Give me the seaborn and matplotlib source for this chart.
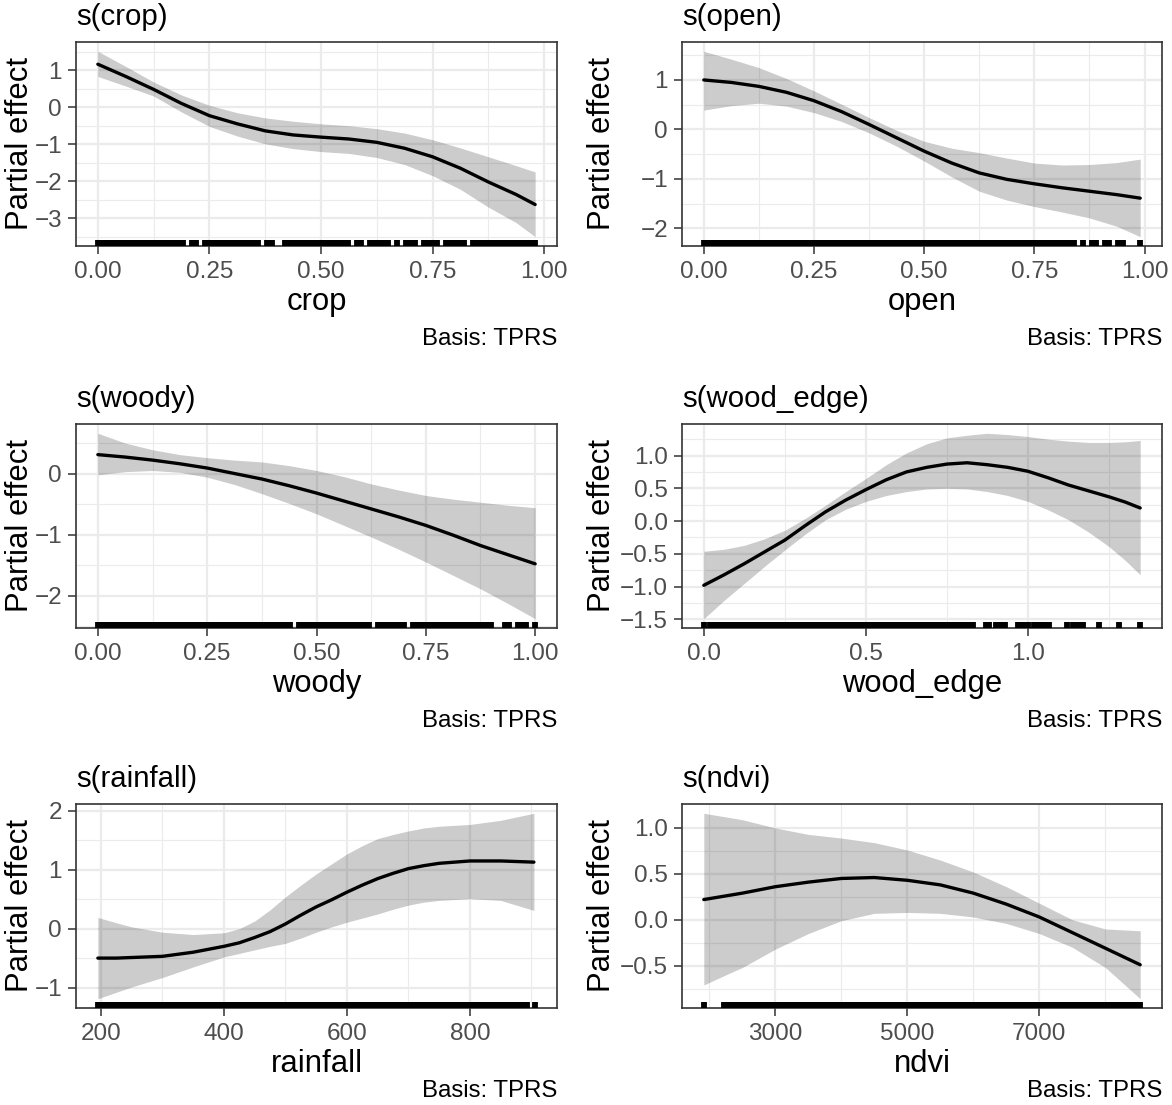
import matplotlib
matplotlib.use("Agg")
import matplotlib.pyplot as plt
import seaborn as sns

sns.set_theme(style="white")
plt.rcParams["font.family"] = ["Liberation Sans", "DejaVu Sans"]
plt.rcParams["axes.unicode_minus"] = True

M = "\u2212"

# ---------------- data: s(crop) ----------------
crop_x = [0.0, 0.0625, 0.125, 0.1875, 0.25, 0.3125, 0.375, 0.4375, 0.5, 0.5625,
          0.625, 0.6875, 0.75, 0.8125, 0.875, 0.9375, 0.98]
crop_fit = [1.16, 0.83, 0.48, 0.10, -0.23, -0.45, -0.64, -0.75, -0.81, -0.86,
            -0.95, -1.11, -1.34, -1.65, -2.02, -2.36, -2.63]
crop_upper = [1.51, 1.10, 0.68, 0.33, 0.05, -0.15, -0.29, -0.38, -0.45, -0.50,
              -0.58, -0.70, -0.88, -1.10, -1.34, -1.58, -1.75]
crop_lower = [0.83, 0.57, 0.30, -0.13, -0.52, -0.78, -0.99, -1.12, -1.20, -1.25,
              -1.36, -1.55, -1.85, -2.22, -2.70, -3.12, -3.50]
crop_rug = [0.00, 0.01, 0.02, 0.03, 0.04, 0.05, 0.06, 0.07, 0.08, 0.09, 0.10, 0.11,
            0.12, 0.13, 0.14, 0.15, 0.16, 0.17, 0.18, 0.19, 0.21, 0.22, 0.24, 0.25,
            0.26, 0.27, 0.28, 0.29, 0.30, 0.31, 0.32, 0.33, 0.34, 0.35, 0.36, 0.38,
            0.39, 0.42, 0.43, 0.44, 0.45, 0.46, 0.47, 0.48, 0.49, 0.50, 0.51, 0.52,
            0.53, 0.54, 0.55, 0.56, 0.58, 0.59, 0.61, 0.62, 0.63, 0.64, 0.65, 0.67,
            0.69, 0.70, 0.71, 0.73, 0.74, 0.75, 0.76, 0.78, 0.79, 0.80, 0.81, 0.82,
            0.84, 0.85, 0.86, 0.87, 0.88, 0.89, 0.90, 0.91, 0.92, 0.93, 0.94, 0.95,
            0.96, 0.97, 0.98]
crop_xticks = [0.0, 0.25, 0.5, 0.75, 1.0]
crop_xlabels = ["0.00", "0.25", "0.50", "0.75", "1.00"]
crop_yticks = [-3, -2, -1, 0, 1]
crop_ylabels = [M + "3", M + "2", M + "1", "0", "1"]

# ---------------- data: s(open) ----------------
open_x = [0.0, 0.0625, 0.125, 0.1875, 0.25, 0.3125, 0.375, 0.4375, 0.5, 0.5625,
          0.625, 0.6875, 0.75, 0.8125, 0.875, 0.9375, 0.99]
open_fit = [1.00, 0.95, 0.87, 0.75, 0.58, 0.36, 0.10, -0.17, -0.44, -0.68,
            -0.88, -1.01, -1.10, -1.18, -1.25, -1.32, -1.39]
open_upper = [1.58, 1.42, 1.25, 1.03, 0.78, 0.51, 0.24, -0.02, -0.24, -0.38,
              -0.47, -0.58, -0.68, -0.72, -0.71, -0.67, -0.60]
open_lower = [0.39, 0.48, 0.53, 0.47, 0.34, 0.16, -0.07, -0.34, -0.64, -0.96,
              -1.25, -1.43, -1.56, -1.67, -1.79, -1.96, -2.17]
open_rug = [0.00, 0.01, 0.02, 0.03, 0.04, 0.05, 0.06, 0.07, 0.08, 0.09, 0.10, 0.11,
            0.12, 0.13, 0.14, 0.15, 0.16, 0.17, 0.18, 0.19, 0.20, 0.21, 0.22, 0.23,
            0.24, 0.25, 0.26, 0.27, 0.28, 0.29, 0.30, 0.31, 0.32, 0.33, 0.34, 0.35,
            0.36, 0.37, 0.38, 0.39, 0.40, 0.41, 0.42, 0.43, 0.44, 0.45, 0.46, 0.47,
            0.48, 0.49, 0.50, 0.51, 0.52, 0.53, 0.54, 0.55, 0.56, 0.57, 0.58, 0.59,
            0.60, 0.61, 0.62, 0.63, 0.64, 0.65, 0.66, 0.67, 0.68, 0.69, 0.70, 0.71,
            0.72, 0.73, 0.74, 0.75, 0.76, 0.77, 0.78, 0.79, 0.80, 0.81, 0.82, 0.83,
            0.84, 0.86, 0.88, 0.89, 0.91, 0.92, 0.94, 0.95, 0.99]
open_xticks = [0.0, 0.25, 0.5, 0.75, 1.0]
open_xlabels = ["0.00", "0.25", "0.50", "0.75", "1.00"]
open_yticks = [-2, -1, 0, 1]
open_ylabels = [M + "2", M + "1", "0", "1"]

# ---------------- data: s(woody) ----------------
woody_x = [0.0, 0.0625, 0.125, 0.1875, 0.25, 0.3125, 0.375, 0.4375, 0.5, 0.5625,
           0.625, 0.6875, 0.75, 0.8125, 0.875, 0.9375, 1.0]
woody_fit = [0.31, 0.27, 0.22, 0.16, 0.09, 0.00, -0.09, -0.20, -0.32, -0.45,
             -0.58, -0.71, -0.85, -1.01, -1.18, -1.33, -1.48]
woody_upper = [0.66, 0.50, 0.39, 0.31, 0.26, 0.22, 0.19, 0.13, 0.05, -0.05,
               -0.17, -0.27, -0.36, -0.42, -0.47, -0.52, -0.56]
woody_lower = [-0.02, 0.03, 0.05, 0.02, -0.06, -0.18, -0.33, -0.49, -0.66, -0.85,
               -1.04, -1.24, -1.45, -1.67, -1.89, -2.13, -2.38]
woody_rug = [0.00, 0.01, 0.02, 0.03, 0.04, 0.05, 0.06, 0.07, 0.08, 0.09, 0.10, 0.11,
             0.12, 0.13, 0.14, 0.15, 0.16, 0.17, 0.18, 0.19, 0.20, 0.21, 0.22, 0.23,
             0.24, 0.25, 0.26, 0.27, 0.28, 0.29, 0.30, 0.31, 0.32, 0.33, 0.34, 0.35,
             0.36, 0.37, 0.38, 0.39, 0.40, 0.41, 0.42, 0.43, 0.44, 0.46, 0.47, 0.48,
             0.49, 0.50, 0.51, 0.52, 0.53, 0.54, 0.55, 0.56, 0.57, 0.58, 0.59, 0.60,
             0.61, 0.62, 0.64, 0.65, 0.66, 0.67, 0.68, 0.69, 0.70, 0.72, 0.73, 0.74,
             0.75, 0.76, 0.77, 0.78, 0.79, 0.80, 0.81, 0.82, 0.83, 0.84, 0.85, 0.86,
             0.87, 0.88, 0.89, 0.90, 0.93, 0.94, 0.96, 0.97, 0.98, 1.00]
woody_xticks = [0.0, 0.25, 0.5, 0.75, 1.0]
woody_xlabels = ["0.00", "0.25", "0.50", "0.75", "1.00"]
woody_yticks = [-2, -1, 0]
woody_ylabels = [M + "2", M + "1", "0"]

# ---------------- data: s(wood_edge) ----------------
edge_x = [0.0, 0.0625, 0.125, 0.1875, 0.25, 0.3125, 0.375, 0.4375, 0.5, 0.5625,
          0.625, 0.6875, 0.75, 0.8125, 0.875, 0.9375, 1.0, 1.0625, 1.125, 1.1875,
          1.25, 1.3, 1.346]
edge_fit = [-0.98, -0.82, -0.65, -0.47, -0.29, -0.07, 0.14, 0.32, 0.48, 0.63,
            0.75, 0.82, 0.87, 0.89, 0.86, 0.82, 0.76, 0.66, 0.55, 0.46,
            0.37, 0.29, 0.20]
edge_upper = [-0.46, -0.43, -0.37, -0.27, -0.14, 0.04, 0.24, 0.45, 0.65, 0.86,
              1.04, 1.18, 1.27, 1.31, 1.34, 1.32, 1.29, 1.25, 1.22, 1.20,
              1.20, 1.21, 1.23]
edge_lower = [-1.49, -1.21, -0.95, -0.69, -0.44, -0.20, 0.02, 0.18, 0.30, 0.39,
              0.45, 0.49, 0.50, 0.49, 0.45, 0.39, 0.30, 0.17, 0.02, -0.17,
              -0.39, -0.60, -0.82]
edge_rug = [0.00, 0.02, 0.035, 0.05, 0.065, 0.08, 0.095, 0.11, 0.125, 0.14, 0.155,
            0.17, 0.185, 0.20, 0.215, 0.23, 0.245, 0.26, 0.275, 0.29, 0.305, 0.32,
            0.335, 0.35, 0.365, 0.38, 0.395, 0.41, 0.425, 0.44, 0.455, 0.47, 0.485,
            0.50, 0.515, 0.53, 0.545, 0.56, 0.575, 0.59, 0.605, 0.62, 0.635, 0.65,
            0.665, 0.68, 0.695, 0.71, 0.725, 0.74, 0.755, 0.77, 0.785, 0.80, 0.815,
            0.83, 0.87, 0.88, 0.90, 0.915, 0.93, 0.97, 0.985, 1.00, 1.02, 1.035,
            1.05, 1.065, 1.12, 1.14, 1.155, 1.17, 1.22, 1.28, 1.346]
edge_xticks = [0.0, 0.5, 1.0]
edge_xlabels = ["0.0", "0.5", "1.0"]
edge_yticks = [-1.5, -1.0, -0.5, 0.0, 0.5, 1.0]
edge_ylabels = [M + "1.5", M + "1.0", M + "0.5", "0.0", "0.5", "1.0"]

# ---------------- data: s(rainfall) ----------------
rain_x = [195, 225, 250, 300, 350, 400, 425, 450, 475, 500, 525, 550, 575, 600,
          625, 650, 675, 700, 725, 750, 800, 850, 904]
rain_fit = [-0.50, -0.50, -0.49, -0.47, -0.40, -0.30, -0.24, -0.15, -0.05, 0.08,
            0.23, 0.37, 0.49, 0.62, 0.74, 0.85, 0.94, 1.02, 1.07, 1.11, 1.15, 1.15, 1.13]
rain_upper = [0.19, 0.10, 0.03, -0.06, -0.10, -0.07, 0.00, 0.13, 0.32, 0.54,
              0.74, 0.93, 1.10, 1.27, 1.41, 1.53, 1.60, 1.66, 1.71, 1.74, 1.77, 1.84, 1.96]
rain_lower = [-1.19, -1.08, -0.99, -0.83, -0.65, -0.48, -0.42, -0.36, -0.30, -0.25,
              -0.16, -0.06, 0.03, 0.11, 0.18, 0.25, 0.33, 0.40, 0.45, 0.48, 0.51, 0.48, 0.31]
rain_rug = [195, 203, 211, 219, 227, 235, 243, 251, 259, 267, 275, 283, 291, 299,
            307, 315, 323, 331, 339, 347, 355, 363, 371, 379, 387, 395, 403, 411,
            419, 427, 435, 443, 451, 459, 467, 475, 483, 491, 499, 507, 515, 523,
            531, 539, 547, 555, 563, 571, 579, 587, 595, 603, 611, 619, 627, 635,
            643, 651, 659, 667, 675, 683, 691, 700, 708, 716, 724, 732, 738, 745,
            753, 761, 769, 777, 785, 793, 801, 806, 813, 820, 828, 836, 844, 852,
            860, 868, 876, 884, 892, 906]
rain_xticks = [200, 400, 600, 800]
rain_xlabels = ["200", "400", "600", "800"]
rain_yticks = [-1, 0, 1, 2]
rain_ylabels = [M + "1", "0", "1", "2"]

# ---------------- data: s(ndvi) ----------------
ndvi_x = [1917, 2250, 2500, 3000, 3500, 4000, 4500, 5000, 5500, 6000, 6500, 7000,
          7500, 8000, 8527]
ndvi_fit = [0.22, 0.26, 0.29, 0.36, 0.41, 0.45, 0.46, 0.43, 0.38, 0.29, 0.17, 0.03,
            -0.14, -0.31, -0.49]
ndvi_upper = [1.16, 1.12, 1.09, 1.00, 0.93, 0.89, 0.84, 0.76, 0.65, 0.52, 0.36, 0.18,
              0.00, -0.10, -0.12]
ndvi_lower = [-0.71, -0.60, -0.52, -0.32, -0.15, -0.01, 0.07, 0.08, 0.07, 0.03, -0.04,
              -0.15, -0.30, -0.52, -0.86]
ndvi_rug = [1917, 2230, 2290, 2350, 2420, 2480, 2540, 2600, 2650, 2700, 2775, 2850,
            2925, 3000, 3075, 3150, 3225, 3300, 3375, 3450, 3525, 3600, 3675, 3750,
            3825, 3900, 3975, 4050, 4125, 4200, 4275, 4350, 4425, 4500, 4575, 4650,
            4725, 4800, 4875, 4950, 5025, 5100, 5175, 5250, 5325, 5400, 5475, 5550,
            5625, 5700, 5775, 5850, 5925, 6000, 6075, 6150, 6225, 6300, 6375, 6450,
            6525, 6600, 6675, 6750, 6825, 6900, 6975, 7050, 7125, 7200, 7275, 7350,
            7425, 7500, 7575, 7650, 7725, 7800, 7875, 7950, 8025, 8100, 8175, 8250,
            8325, 8400, 8475, 8527]
ndvi_xticks = [3000, 5000, 7000]
ndvi_xlabels = ["3000", "5000", "7000"]
ndvi_yticks = [-0.5, 0.0, 0.5, 1.0]
ndvi_ylabels = [M + "0.5", "0.0", "0.5", "1.0"]

panels = [
    dict(var="crop", x=crop_x, fit=crop_fit, up=crop_upper, lo=crop_lower, rug=crop_rug,
         xt=crop_xticks, xl=crop_xlabels, yt=crop_yticks, yl=crop_ylabels,
         xm=[0.125, 0.375, 0.625, 0.875], ym=[-3.5, -2.5, -1.5, -0.5, 0.5, 1.5]),
    dict(var="open", x=open_x, fit=open_fit, up=open_upper, lo=open_lower, rug=open_rug,
         xt=open_xticks, xl=open_xlabels, yt=open_yticks, yl=open_ylabels,
         xm=[0.125, 0.375, 0.625, 0.875], ym=[-1.5, -0.5, 0.5, 1.5]),
    dict(var="woody", x=woody_x, fit=woody_fit, up=woody_upper, lo=woody_lower, rug=woody_rug,
         xt=woody_xticks, xl=woody_xlabels, yt=woody_yticks, yl=woody_ylabels,
         xm=[0.125, 0.375, 0.625, 0.875], ym=[-2.5, -1.5, -0.5, 0.5]),
    dict(var="wood_edge", x=edge_x, fit=edge_fit, up=edge_upper, lo=edge_lower, rug=edge_rug,
         xt=edge_xticks, xl=edge_xlabels, yt=edge_yticks, yl=edge_ylabels,
         xm=[0.25, 0.75, 1.25], ym=[-1.25, -0.75, -0.25, 0.25, 0.75, 1.25]),
    dict(var="rainfall", x=rain_x, fit=rain_fit, up=rain_upper, lo=rain_lower, rug=rain_rug,
         xt=rain_xticks, xl=rain_xlabels, yt=rain_yticks, yl=rain_ylabels,
         xm=[300, 500, 700, 900], ym=[-0.5, 0.5, 1.5]),
    dict(var="ndvi", x=ndvi_x, fit=ndvi_fit, up=ndvi_upper, lo=ndvi_lower, rug=ndvi_rug,
         xt=ndvi_xticks, xl=ndvi_xlabels, yt=ndvi_yticks, yl=ndvi_ylabels,
         xm=[2000, 4000, 6000, 8000], ym=[-0.75, -0.25, 0.25, 0.75]),
]

# ---------------- layout (pixels) ----------------
W, H = 1172, 1105
fig = plt.figure(figsize=(W / 100, H / 100), dpi=100)
fig.patch.set_facecolor("white")

col_left = [76, 682]
col_width = [481, 480]
row_top = [42, 424, 804]
panel_h = 204
ylab_base = [27.6, 610]

for i, p in enumerate(panels):
    r, c = divmod(i, 2)
    l, t, w = col_left[c], row_top[r], col_width[c]
    bottom = t + panel_h
    ax = fig.add_axes([l / W, (H - bottom) / H, w / W, panel_h / H])
    ax.set_facecolor("white")

    ax.fill_between(p["x"], p["lo"], p["up"], color="black", alpha=0.2,
                    linewidth=0, zorder=2)
    sns.lineplot(x=p["x"], y=p["fit"], ax=ax, color="black", linewidth=2.4,
                 estimator=None, sort=False, zorder=3)
    rug = sns.rugplot(x=p["rug"], ax=ax, height=0.028, color="black", linewidth=4.2,
                      expand_margins=False, zorder=4)
    for coll in ax.collections[-1:]:
        coll.set_capstyle("butt")

    xs = p["x"] + p["rug"]
    xmin, xmax = min(xs), max(xs)
    xr = xmax - xmin
    ymin, ymax = min(p["lo"]), max(p["up"])
    yr = ymax - ymin
    ax.set_xlim(xmin - 0.05 * xr, xmax + 0.05 * xr)
    ax.set_ylim(ymin - 0.05 * yr, ymax + 0.05 * yr)

    ax.set_xticks(p["xt"])
    ax.set_xticklabels(p["xl"])
    ax.set_yticks(p["yt"])
    ax.set_yticklabels(p["yl"])
    ax.set_xticks(p["xm"], minor=True)
    ax.set_yticks(p["ym"], minor=True)
    ax.grid(which="major", color="#EBEBEB", linewidth=1.6)
    ax.grid(which="minor", color="#EBEBEB", linewidth=0.8)
    ax.set_axisbelow(True)

    ax.tick_params(which="major", bottom=True, left=True, direction="out",
                   length=5.8, width=1.1, color="#333333", labelsize=17.5,
                   labelcolor="#4D4D4D")
    ax.tick_params(axis="x", which="major", pad=5.0)
    ax.tick_params(axis="y", which="major", pad=4.3)
    ax.tick_params(which="minor", length=0)
    for s in ax.spines.values():
        s.set_color("#333333")
        s.set_linewidth(1.2)
        s.set_visible(True)

    ax.set_xlabel(p["var"], fontsize=22.3, color="black")
    ax.xaxis.set_label_coords(0.5, -64 / panel_h)
    ax.xaxis.label.set_va("baseline")

    ax.set_ylabel("Partial effect", fontsize=22.3, color="black")
    ax.yaxis.set_label_coords((ylab_base[c] - l) / w, 0.5)
    ax.yaxis.label.set_va("baseline")

    ax.set_title("s(" + p["var"] + ")", loc="left", fontsize=21.2, color="black",
                 y=1 + 17 / panel_h, va="baseline", pad=0)
    cap_base = min(bottom + 99, H - 8)
    ax.text(1.0, -(cap_base - bottom) / panel_h, "Basis: TPRS", transform=ax.transAxes,
            ha="right", va="baseline", fontsize=17.3, color="black")

fig.savefig("out.png", dpi=100, facecolor="white")
